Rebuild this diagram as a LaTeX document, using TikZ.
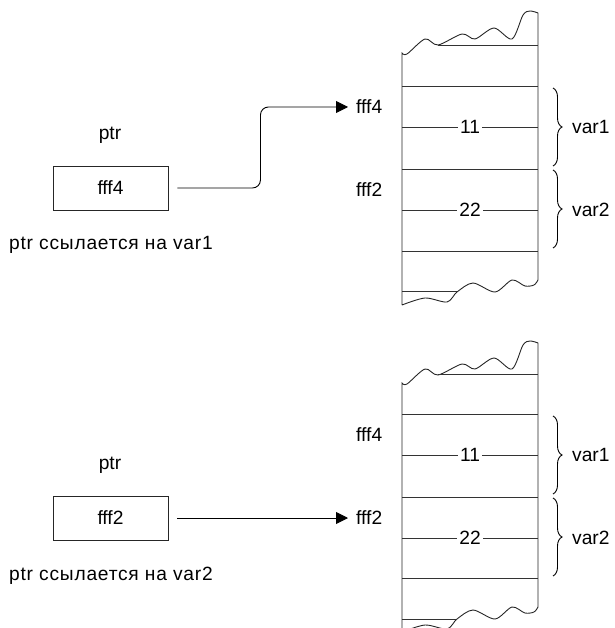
\documentclass[tikz,border=0pt]{standalone}
\usepackage{fontspec}
\setmainfont{Liberation Sans}
\usetikzlibrary{arrows.meta,decorations.pathreplacing}

\begin{document}
\begin{tikzpicture}[
    x=1pt, y=-1pt,
    testo/.style={font=\fontsize{19.2}{23}\selectfont, inner sep=0pt},
    nota/.style={testo, font=\fontsize{19.2}{23}\selectfont\addfontfeatures{LetterSpace=4}, anchor=west},
    casella/.style={testo, draw=black!85, line width=0.9pt, minimum width=115pt, minimum height=44pt},
    cella/.style={draw=black!80, line width=0.8pt},
    onda/.style={draw=black!85, line width=0.9pt},
    valore/.style={testo, fill=white, inner sep=2.5pt},
    freccia/.style={-{Triangle[length=12pt,width=12pt]}, line width=0.9pt, shorten <=9pt, shorten >=8pt, rounded corners=8pt},
    graffa/.style={decorate, decoration={brace, amplitude=9pt}, line width=0.9pt}
]

    % Area del disegno
    \useasboundingbox (0,0) rectangle (614,628);
    \clip (0,0) rectangle (614,628);

    % 1. Primo caso: ptr punta a var1
    \node[testo] (ptrA) at (110,135) {ptr};
    \node[casella] (boxA) at (110.5,188) {fff4};
    \node[nota] (notaA) at (9,245) {ptr ссылается на var1};

    % blocco di memoria
    \draw[onda] (402,305) -- (402,53)
        -- plot[smooth] coordinates {(402,53) (407,54) (425,39) (438,45) (462,34) (475,39) (494,28) (512,39) (523,15) (530,11) (538,13)}
        -- (538,280)
        -- plot[smooth] coordinates {(538,280) (534,285) (525,286) (512,280) (495,292) (473,283) (457,292) (447,302) (425,298) (402,305)};
    \draw[cella] (438,45) -- (538,45);
    \draw[cella] (402,86) -- (538,86);
    \draw[cella] (402,127) -- (538,127) node[midway, valore] (valA1) {11};
    \draw[cella] (402,169) -- (538,169);
    \draw[cella] (402,210) -- (538,210) node[midway, valore] (valA2) {22};
    \draw[cella] (402,251) -- (538,251);
    \draw[cella] (402,291) -- (457,291);

    % indirizzi e variabili
    \node[testo, anchor=west] (indA4) at (356,107) {fff4};
    \node[testo, anchor=west] (indA2) at (356,190) {fff2};
    \draw[graffa] (553,88) -- (553,166);
    \draw[graffa] (553,170) -- (553,248);
    \node[testo, anchor=west] (varA1) at (572,127) {var1};
    \node[testo, anchor=west] (varA2) at (572,210) {var2};

    % collegamento
    \draw[freccia] (boxA.east) -- ++(92,0) |- (indA4.west);

    % 2. Secondo caso: ptr punta a var2
    \begin{scope}[shift={(0,330)}]
    \node[testo] (ptrB) at (110,135) {ptr};
    \node[casella] (boxB) at (110.5,188) {fff2};
    \node[nota] (notaB) at (9,246) {ptr ссылается на var2};

    % blocco di memoria
    \draw[onda] (402,305) -- (402,53)
        -- plot[smooth] coordinates {(402,53) (407,54) (425,39) (438,45) (462,34) (475,39) (494,28) (512,39) (523,15) (530,11) (538,13)}
        -- (538,277)
        -- plot[smooth] coordinates {(538,277) (534,282) (525,283) (512,277) (495,289) (473,280) (457,289) (447,299) (425,295) (402,302)};
    \draw[cella] (438,44) -- (538,44);
    \draw[cella] (402,84) -- (538,84);
    \draw[cella] (402,125) -- (538,125) node[midway, valore] (valB1) {11};
    \draw[cella] (402,167) -- (538,167);
    \draw[cella] (402,208) -- (538,208) node[midway, valore] (valB2) {22};
    \draw[cella] (402,248) -- (538,248);
    \draw[cella] (402,289) -- (457,289);

    % indirizzi e variabili
    \node[testo, anchor=west] (indB4) at (356,105) {fff4};
    \node[testo, anchor=west] (indB2) at (356,188) {fff2};
    \draw[graffa] (553,86) -- (553,164);
    \draw[graffa] (553,168) -- (553,246);
    \node[testo, anchor=west] (varB1) at (572,125) {var1};
    \node[testo, anchor=west] (varB2) at (572,208) {var2};
    \end{scope}

    % collegamento
    \draw[freccia] (boxB.east) -- (boxB.east -| indB2.west);

\end{tikzpicture}
\end{document}
